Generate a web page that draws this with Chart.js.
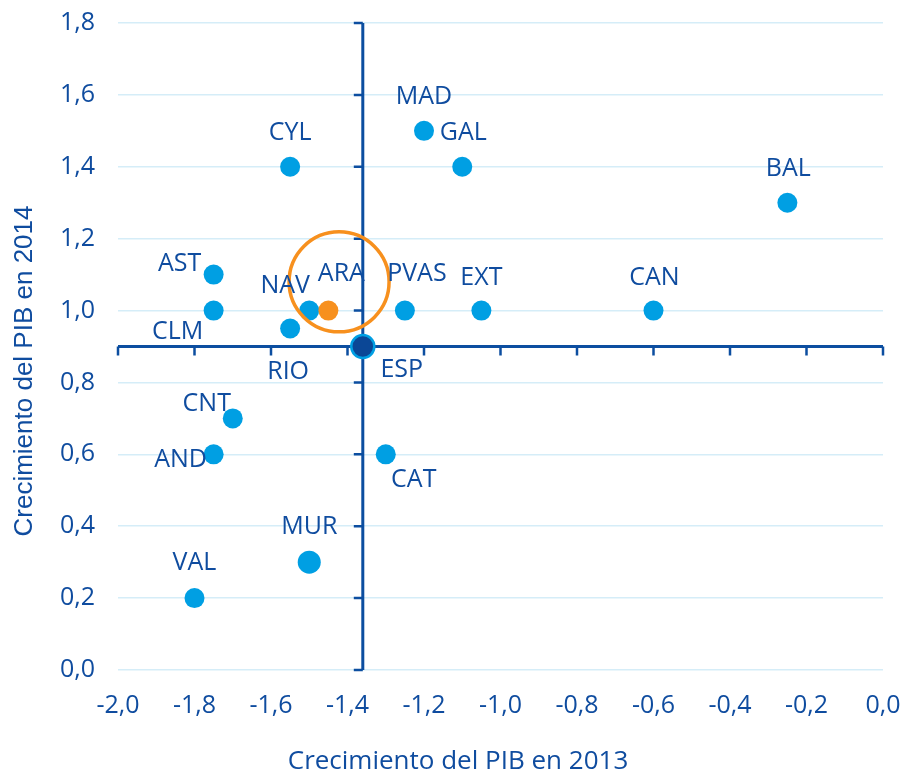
<!DOCTYPE html>
<html>
<head>
<meta charset="utf-8">
<script src="https://cdn.jsdelivr.net/npm/chart.js@4"></script>
<style>
html,body{margin:0;padding:0;background:#fff;}
#wrap{width:906px;height:775px;position:relative;}
</style>
</head>
<body>
<div id="wrap"><canvas id="c" width="906" height="775"></canvas></div>
<script>
// ---- data ----
const regions = ["CYL","MAD","GAL","BAL","AST","CLM","NAV","PVAS","EXT","CAN","RIO","CNT","AND","CAT","MUR","VAL"];
const growth2013 = [-1.55,-1.2,-1.1,-0.25,-1.75,-1.75,-1.5,-1.25,-1.05,-0.6,-1.55,-1.7,-1.75,-1.3,-1.5,-1.8];
const growth2014 = [1.4,1.5,1.4,1.3,1.1,1.0,1.0,1.0,1.0,1.0,0.95,0.7,0.6,0.6,0.3,0.2];
const araName = ["ARA"]; const ara2013 = [-1.45]; const ara2014 = [1.0];
const espName = ["ESP"]; const esp2013 = [-1.36]; const esp2014 = [0.9];
const xTicks = [-2.0,-1.8,-1.6,-1.4,-1.2,-1.0,-0.8,-0.6,-0.4,-0.2,0.0];
const yTicks = [0.0,0.2,0.4,0.6,0.8,1.0,1.2,1.4,1.6,1.8];
const highlight2013 = [-1.422]; const highlight2014 = [1.08];

// ---- styles / label placement (pixel offsets from point) ----
const labelOffsets = {
  CYL:[0,-34], MAD:[0,-34], GAL:[1,-34], BAL:[1,-34], AST:[-34,-11], CLM:[-36,21],
  NAV:[-24,-25], PVAS:[12,-37], EXT:[0,-33], CAN:[1,-33], RIO:[-2,43], CNT:[-26,-15],
  AND:[-33,6], CAT:[28,26], MUR:[0,-35], VAL:[0,-35], ARA:[13,-37], ESP:[39,23]
};
const TEXT = "#0f4c9f";
const LIGHT = "#009fe3";
const AXIS = "#0c4ea0";
const GRID = "#d5edf8";
const FONT = "'Open Sans', 'Noto Sans', sans-serif";
const fmt = v => (Math.round(v*10)/10).toFixed(1).replace('.', ',');

const pts = (xs, ys) => xs.map((x,i)=>({x:x, y:ys[i]}));
const radii = regions.map(r => r === "MUR" ? 11.5 : 10);

const crossPlugin = {
  id:'cross',
  beforeDatasetsDraw(chart){
    const {ctx, scales:{x,y}} = chart;
    const cx = x.getPixelForValue(esp2013[0]);
    const cy = y.getPixelForValue(esp2014[0]);
    ctx.save();
    ctx.strokeStyle = AXIS; ctx.lineWidth = 3;
    ctx.beginPath();
    ctx.moveTo(cx, y.getPixelForValue(yTicks[yTicks.length-1]));
    ctx.lineTo(cx, y.getPixelForValue(yTicks[0]));
    ctx.moveTo(x.getPixelForValue(xTicks[0]), cy);
    ctx.lineTo(x.getPixelForValue(xTicks[xTicks.length-1]), cy);
    ctx.stroke();
    ctx.lineWidth = 2.5;
    ctx.beginPath();
    yTicks.forEach(t=>{ const py=y.getPixelForValue(t); ctx.moveTo(cx-9,py); ctx.lineTo(cx,py); });
    xTicks.forEach(t=>{ const px=x.getPixelForValue(t); ctx.moveTo(px,cy); ctx.lineTo(px,cy+9); });
    ctx.stroke();
    ctx.restore();
  },
  afterDraw(chart){
    const {ctx, scales:{x,y}} = chart;
    ctx.save();
    ctx.fillStyle = TEXT;
    ctx.font = "25px " + FONT;
    ctx.textAlign = 'center'; ctx.textBaseline = 'middle';
    const drawSet = (names, xs, ys) => names.forEach((n,i)=>{
      const o = labelOffsets[n] || [0,-30];
      ctx.fillText(n, x.getPixelForValue(xs[i]) + o[0], y.getPixelForValue(ys[i]) + o[1]);
    });
    drawSet(regions, growth2013, growth2014);
    drawSet(araName, ara2013, ara2014);
    drawSet(espName, esp2013, esp2014);
    // axis titles
    ctx.font = "26px " + FONT;
    ctx.fillText("Crecimiento del PIB en 2013", 458, 762);
    ctx.save();
    ctx.translate(25, 371);
    ctx.rotate(-Math.PI/2);
    ctx.font = "26px 'Liberation Sans', Arial, sans-serif";
    ctx.fillText("Crecimiento del PIB en 2014", 0, 0);
    ctx.restore();
    ctx.restore();
  }
};

new Chart(document.getElementById('c'), {
  type:'scatter',
  data:{
    datasets:[
      { data: pts(highlight2013, highlight2014), pointRadius:50, pointHoverRadius:50,
        backgroundColor:'rgba(0,0,0,0)', borderColor:'#f7901e', borderWidth:3.5, order:0 },
      { data: pts(growth2013, growth2014), pointRadius: radii, pointHoverRadius: radii,
        backgroundColor: LIGHT, borderColor: LIGHT, borderWidth:0, order:2 },
      { data: pts(ara2013, ara2014), pointRadius:10, backgroundColor:'#f7901e', borderWidth:0, order:1 },
      { data: pts(esp2013, esp2014), pointRadius:11.5, backgroundColor:'#0b4796', borderColor:LIGHT, borderWidth:2.5, order:1 }
    ]
  },
  options:{
    responsive:false, animation:false,
    layout:{autoPadding:false, padding:{left:0, right:23, top:23, bottom:0}},
    plugins:{legend:{display:false}, tooltip:{enabled:false}},
    scales:{
      x:{ type:'linear', min:xTicks[0], max:xTicks[xTicks.length-1],
        afterBuildTicks: s => { s.ticks = xTicks.map(v=>({value:v})); },
        afterFit: s => { s.height = 105; s.paddingLeft = 0; s.paddingRight = 0; },
        grid:{display:false, drawTicks:false}, border:{display:false},
        ticks:{ color:TEXT, font:{family:FONT, size:25}, padding:21, callback:v=>fmt(v), maxRotation:0, autoSkip:false }
      },
      y:{ type:'linear', min:yTicks[0], max:yTicks[yTicks.length-1],
        afterBuildTicks: s => { s.ticks = yTicks.map(v=>({value:v})); },
        afterFit: s => { s.width = 118; s.paddingTop = 0; s.paddingBottom = 0; },
        grid:{color:GRID, lineWidth:1.5, drawTicks:false}, border:{display:false},
        ticks:{ color:TEXT, font:{family:FONT, size:25}, padding:23, callback:v=>fmt(v), autoSkip:false }
      }
    }
  },
  plugins:[crossPlugin]
});
</script>
</body>
</html>
